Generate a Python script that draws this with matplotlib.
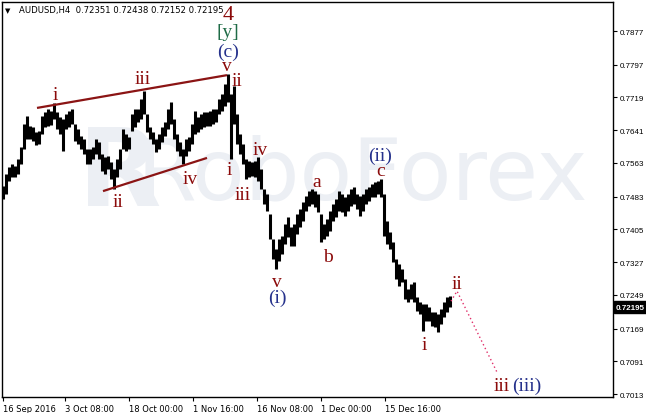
import matplotlib
matplotlib.use('Agg')
import matplotlib.pyplot as plt
import numpy as np

# ---------------- data ----------------
symbol_title = "AUDUSD,H4  0.72351 0.72438 0.72152 0.72195"
last_price = 0.72195

# price envelope per 3-bar column (high / low)
highs = [
    0.7508, 0.7537, 0.7553, 0.7560, 0.7556, 0.7572, 0.7601, 0.7656, 0.7675, 0.7651,
    0.7649, 0.7637, 0.7639, 0.7675, 0.7684, 0.7691, 0.7687, 0.7706, 0.7684, 0.7672,
    0.7668, 0.7680, 0.7687, 0.7691, 0.7656, 0.7644, 0.7627, 0.7620, 0.7596, 0.7596,
    0.7601, 0.7620, 0.7613, 0.7584, 0.7577, 0.7579, 0.7565, 0.7548, 0.7572, 0.7596,
    0.7644, 0.7632, 0.7625, 0.7680, 0.7691, 0.7691, 0.7715, 0.7734, 0.7680, 0.7649,
    0.7637, 0.7620, 0.7632, 0.7649, 0.7660, 0.7691, 0.7708, 0.7668, 0.7632, 0.7613,
    0.7596, 0.7620, 0.7625, 0.7656, 0.7687, 0.7672, 0.7680, 0.7684, 0.7684, 0.7687,
    0.7691, 0.7691, 0.7715, 0.7727, 0.7751, 0.7775, 0.7727, 0.7746, 0.7680, 0.7632,
    0.7608, 0.7572, 0.7568, 0.7565, 0.7568, 0.7577, 0.7548, 0.7501, 0.7489, 0.7441,
    0.7382, 0.7358, 0.7382, 0.7389, 0.7418, 0.7434, 0.7411, 0.7418, 0.7441, 0.7453,
    0.7470, 0.7484, 0.7496, 0.7501, 0.7496, 0.7489, 0.7441, 0.7418, 0.7429, 0.7449,
    0.7465, 0.7477, 0.7496, 0.7489, 0.7482, 0.7489, 0.7501, 0.7506, 0.7489, 0.7484,
    0.7489, 0.7501, 0.7506, 0.7513, 0.7518, 0.7520, 0.7525, 0.7489, 0.7425, 0.7399,
    0.7375, 0.7334, 0.7322, 0.7311, 0.7287, 0.7263, 0.7275, 0.7280, 0.7244, 0.7232,
    0.7227, 0.7227, 0.7220, 0.7208, 0.7208, 0.7203, 0.7215, 0.7232, 0.7244, 0.7246,
]
lows = [
    0.7477, 0.7489, 0.7520, 0.7529, 0.7529, 0.7537, 0.7560, 0.7596, 0.7620, 0.7620,
    0.7615, 0.7606, 0.7608, 0.7632, 0.7649, 0.7651, 0.7653, 0.7668, 0.7644, 0.7632,
    0.7591, 0.7644, 0.7649, 0.7656, 0.7615, 0.7608, 0.7596, 0.7584, 0.7560, 0.7560,
    0.7572, 0.7584, 0.7572, 0.7544, 0.7537, 0.7548, 0.7525, 0.7501, 0.7529, 0.7548,
    0.7596, 0.7591, 0.7596, 0.7639, 0.7649, 0.7660, 0.7668, 0.7680, 0.7637, 0.7620,
    0.7608, 0.7589, 0.7596, 0.7613, 0.7627, 0.7644, 0.7656, 0.7620, 0.7591, 0.7579,
    0.7560, 0.7579, 0.7591, 0.7608, 0.7632, 0.7637, 0.7644, 0.7649, 0.7651, 0.7651,
    0.7656, 0.7660, 0.7680, 0.7687, 0.7699, 0.7708, 0.7572, 0.7656, 0.7608, 0.7584,
    0.7560, 0.7525, 0.7529, 0.7532, 0.7529, 0.7520, 0.7501, 0.7465, 0.7449, 0.7382,
    0.7334, 0.7311, 0.7330, 0.7346, 0.7370, 0.7387, 0.7365, 0.7365, 0.7394, 0.7411,
    0.7425, 0.7449, 0.7460, 0.7465, 0.7458, 0.7446, 0.7375, 0.7382, 0.7389, 0.7401,
    0.7425, 0.7434, 0.7449, 0.7446, 0.7437, 0.7449, 0.7460, 0.7465, 0.7453, 0.7437,
    0.7449, 0.7465, 0.7472, 0.7482, 0.7482, 0.7489, 0.7482, 0.7389, 0.7370, 0.7358,
    0.7327, 0.7287, 0.7270, 0.7280, 0.7239, 0.7232, 0.7239, 0.7232, 0.7211, 0.7203,
    0.7163, 0.7187, 0.7187, 0.7175, 0.7172, 0.7161, 0.7180, 0.7196, 0.7208, 0.7220,
]

y_ticks = [0.7877, 0.7797, 0.7719, 0.7641, 0.7563, 0.7483, 0.7405, 0.7327,
           0.7249, 0.7169, 0.7091, 0.7013]
x_tick_labels = ["16 Sep 2016", "3 Oct 08:00", "18 Oct 00:00", "1 Nov 16:00",
                 "16 Nov 08:00", "1 Dec 00:00", "15 Dec 16:00"]
x_tick_bars = [3, 65, 129, 193, 257, 321, 385]

# trend lines (bar, price)
upper_line = [(37, 0.7694), (227, 0.7772)]
lower_line = [(103, 0.7496), (207, 0.7575)]
# projected path (bar, price)
projection = [(451, 0.7234), (457, 0.7258), (497, 0.7065)]

# wave labels: (text, bar, price, colour key, size key)
wave_labels = [
    ("4", 228, 0.7917, "red", "big"),
    ("[y]", 228, 0.7877, "green", "mid"),
    ("(c)", 228, 0.7829, "blue", "mid"),
    ("v", 227, 0.7794, "red", "mid"),
    ("ii", 237, 0.7760, "red", "mid"),
    ("i", 55, 0.7725, "red", "mid"),
    ("iii", 143, 0.7765, "red", "mid"),
    ("ii", 118, 0.7472, "red", "mid"),
    ("iv", 190, 0.7527, "red", "mid"),
    ("i", 229, 0.7548, "red", "mid"),
    ("iii", 243, 0.7487, "red", "mid"),
    ("iv", 260, 0.7594, "red", "mid"),
    ("v", 277, 0.7282, "red", "mid"),
    ("(i)", 277, 0.7242, "blue", "mid"),
    ("a", 317, 0.7518, "red", "mid"),
    ("b", 328, 0.7341, "red", "mid"),
    ("(ii)", 380, 0.7580, "blue", "mid"),
    ("c", 381, 0.7546, "red", "mid"),
    ("i", 424, 0.7130, "red", "mid"),
    ("ii", 457, 0.7275, "red", "mid"),
    ("iii", 502, 0.7034, "red", "mid"),
    ("(iii)", 527, 0.7034, "blue", "mid"),
]

# ---------------- styling ----------------
colors = {"red": "#8B0A0A", "blue": "#26328C", "green": "#1E6B46"}
sizes = {"big": 16, "mid": 14}

W, H = 646, 414
fig = plt.figure(figsize=(W / 100, H / 100), dpi=100)
fig.patch.set_facecolor("white")
ax = fig.add_axes([2 / W, 1 - 398 / H, 611 / W, 395 / H])
ax.set_xlim(2, 613)
ax.set_ylim(0.7006, 0.79461)

# watermark
ax.text(120, 0.7535, "R", fontsize=78, fontweight="bold", family="DejaVu Sans",
        color="#ECEFF4", ha="center", va="center", zorder=0)
ax.text(362, 0.7535, "RoboForex", fontsize=62, family="DejaVu Sans",
        color="#ECEFF4", ha="center", va="center", zorder=0)

# price bars
bar_x = 3 + 3 * np.arange(len(highs))
ax.vlines(bar_x, lows, highs, colors="black", linewidth=2.2, zorder=2)

# trend lines
for ln in (upper_line, lower_line):
    xs, ys = zip(*ln)
    ax.plot(xs, ys, color="#8B1414", linewidth=1.6, zorder=3, solid_capstyle="butt")

# projection
px, py = zip(*projection)
ax.plot(px, py, color="#E0306A", linewidth=1.0, linestyle=(0, (1, 2)), zorder=3)

serif = ["Liberation Serif", "DejaVu Serif"]
for txt, bx, pr, ck, sk in wave_labels:
    ax.text(bx, pr, txt, color=colors[ck], fontsize=sizes[sk], family=serif,
            ha="center", va="center", zorder=4)

# axes styling
for s in ax.spines.values():
    s.set_color("black")
    s.set_linewidth(1.0)

ax.yaxis.tick_right()
ax.set_yticks(y_ticks)
ax.set_yticklabels([f"{v:.4f}" for v in y_ticks])
ax.tick_params(axis="y", direction="out", length=3, width=0.8, pad=2,
               labelsize=5.8, colors="black")
ax.set_xticks(x_tick_bars)
ax.set_xticklabels(x_tick_labels)
ax.tick_params(axis="x", direction="out", length=3, width=0.8, pad=2,
               labelsize=6.0, colors="black")
for lab in ax.get_xticklabels():
    lab.set_horizontalalignment("left")
    lab.set_family("DejaVu Sans")
for lab in ax.get_yticklabels():
    lab.set_family("Liberation Sans")

# current price marker
ax.text(616, last_price, f"{last_price:.5f}", color="white", fontsize=5.8,
        family="Liberation Sans", fontweight="bold", ha="left", va="center",
        clip_on=False, zorder=5,
        bbox=dict(boxstyle="square,pad=0.3", fc="black", ec="black"))

# header
fig.text(8 / W, 1 - 11 / H, "\u25BC", fontsize=5, color="black",
         ha="center", va="center", family="DejaVu Sans")
fig.text(19 / W, 1 - 11 / H, symbol_title, fontsize=6.1, color="black",
         ha="left", va="center", family="DejaVu Sans")

fig.savefig("out.png", dpi=100)
